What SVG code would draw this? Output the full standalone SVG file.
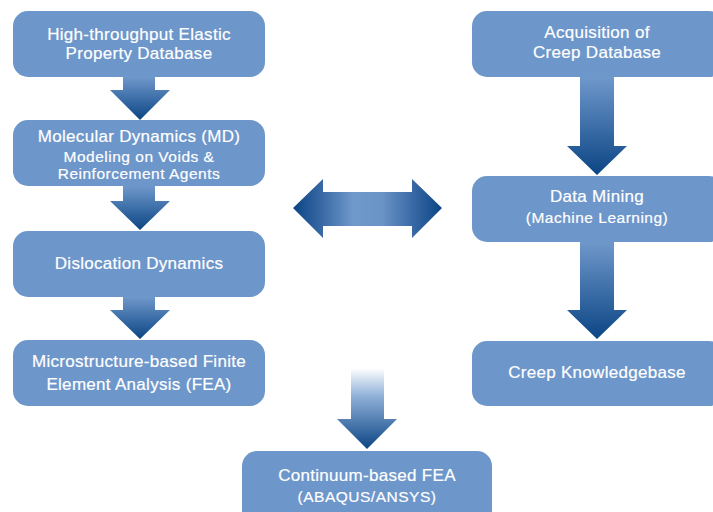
<svg xmlns="http://www.w3.org/2000/svg" width="713" height="512" viewBox="0 0 713 512">
<defs>
<linearGradient id="gDown" x1="0" y1="0" x2="0" y2="1">
<stop offset="0" stop-color="#6f98cb"/>
<stop offset="1" stop-color="#0b4584"/>
</linearGradient>
<linearGradient id="gFade" x1="0" y1="0" x2="0" y2="1">
<stop offset="0" stop-color="#ffffff"/>
<stop offset="0.35" stop-color="#8fb0d8"/>
<stop offset="1" stop-color="#0b4584"/>
</linearGradient>
<linearGradient id="gH" x1="0" y1="0" x2="1" y2="0">
<stop offset="0" stop-color="#0b4584"/>
<stop offset="0.2" stop-color="#3a6aa6"/>
<stop offset="0.4" stop-color="#6f98cb"/>
<stop offset="0.6" stop-color="#6a93c7"/>
<stop offset="0.8" stop-color="#3a6aa6"/>
<stop offset="1" stop-color="#0b4584"/>
</linearGradient>
</defs>
<style>
.box{fill:#6d96ca}
.t{fill:#ffffff;stroke:#ffffff;stroke-width:0.2;font-family:"Liberation Sans",Arial,sans-serif;font-size:17px;letter-spacing:0.3px;text-anchor:middle}
.s{font-size:15.5px;letter-spacing:0.5px}
</style>
<g id="connectors">
<path d="M123,77 H155 V90 H170 L140,120 L110,90 H123 Z" fill="url(#gDown)"/>
<path d="M123,186 H155 V201 H170 L140,230 L110,201 H123 Z" fill="url(#gDown)"/>
<path d="M123,297 H155 V310 H170 L140,339 L110,310 H123 Z" fill="url(#gDown)"/>
<path d="M580,77 H614 V146 H627 L597,175 L567,146 H580 Z" fill="url(#gDown)"/>
<path d="M580,242 H614 V310 H627 L597,339 L567,310 H580 Z" fill="url(#gDown)"/>
<path d="M351,368 H384 V419 H397 L367,449 L337,419 H351 Z" fill="url(#gFade)"/>
<path d="M293,208 L323,179 V192 H412 V179 L442,208 L412,238 V226 H323 V238 Z" fill="url(#gH)"/>
</g>
<g id="n1"><rect class="box" x="13" y="11" width="252" height="66" rx="15"/>
<text class="t" x="139" y="40">High-throughput Elastic</text>
<text class="t" x="139" y="59">Property Database</text></g>
<g id="n2"><rect class="box" x="13" y="120" width="252" height="66" rx="15"/>
<text class="t" x="139" y="142">Molecular Dynamics (MD)</text>
<text class="t s" x="139" y="162">Modeling on Voids &amp;</text>
<text class="t s" x="139" y="179">Reinforcement Agents</text></g>
<g id="n3"><rect class="box" x="13" y="231" width="252" height="66" rx="15"/>
<text class="t" x="139" y="269">Dislocation Dynamics</text></g>
<g id="n4"><rect class="box" x="13" y="340" width="252" height="66" rx="15"/>
<text class="t" x="139" y="367">Microstructure-based Finite</text>
<text class="t" x="139" y="390">Element Analysis (FEA)</text></g>
<g id="n5"><rect class="box" x="472" y="11" width="252" height="66" rx="15"/>
<text class="t" x="597" y="38">Acquisition of</text>
<text class="t" x="597" y="58">Creep Database</text></g>
<g id="n6"><rect class="box" x="472" y="176" width="252" height="66" rx="15"/>
<text class="t" x="597" y="202">Data Mining</text>
<text class="t s" x="597" y="223">(Machine Learning)</text></g>
<g id="n7"><rect class="box" x="472" y="341" width="252" height="65" rx="15"/>
<text class="t" x="597" y="378">Creep Knowledgebase</text></g>
<g id="n8"><rect class="box" x="242" y="451" width="250" height="75" rx="15"/>
<text class="t" x="367" y="481">Continuum-based FEA</text>
<text class="t s" x="367" y="502">(ABAQUS/ANSYS)</text></g>
</svg>
